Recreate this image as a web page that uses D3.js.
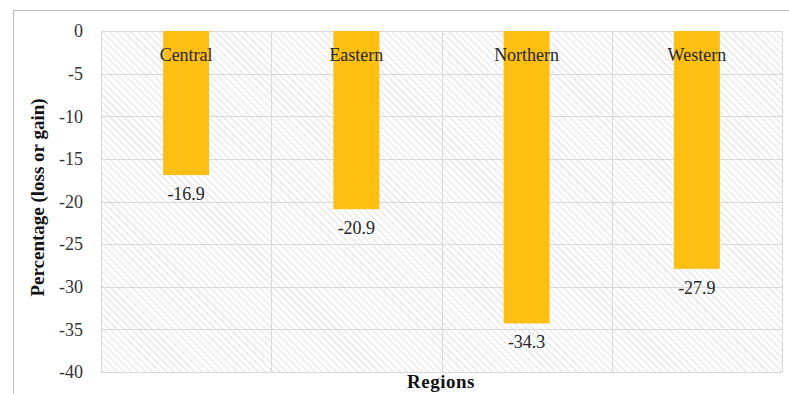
<!DOCTYPE html>
<html>
<head>
<meta charset="utf-8">
<script src="https://cdn.jsdelivr.net/npm/d3@7"></script>
<style>
  body { margin: 0; background: #fff; }
  svg { display: block; font-family: "Liberation Serif", "DejaVu Serif", serif; }
</style>
</head>
<body>
<div id="chart"></div>
<script>
var regions = ["Central", "Eastern", "Northern", "Western"];
var change = [-16.9, -20.9, -34.3, -27.9];
var yTicks = [0, -5, -10, -15, -20, -25, -30, -35, -40];

var width = 789;
var height = 394;
var margin = { left: 101, right: 7, top: 31, bottom: 22 };
var innerW = width - margin.left - margin.right;
var innerH = height - margin.top - margin.bottom;

var svg = d3.select("#chart").append("svg")
    .attr("width", width)
    .attr("height", height);

// hatch fill for plot background (lines running top-left to bottom-right)
var defs = svg.append("defs");
var pat = defs.append("pattern")
    .attr("id", "hatch")
    .attr("patternUnits", "userSpaceOnUse")
    .attr("width", 5)
    .attr("height", 5)
    .attr("patternTransform", "rotate(-45)");
pat.append("line")
    .attr("x1", 0).attr("y1", 0).attr("x2", 0).attr("y2", 5)
    .attr("stroke", "#dcdcdc")
    .attr("stroke-width", 1.6);

// outer frame
svg.append("rect")
    .attr("x", 13.5).attr("y", 10.5)
    .attr("width", width + 10).attr("height", height + 10)
    .attr("fill", "none")
    .attr("stroke", "#bdbdbd");

var xScale = d3.scaleBand()
    .domain(regions)
    .range([0, innerW])
    .paddingInner(0.73)
    .paddingOuter(0.365);

var yScale = d3.scaleLinear()
    .domain([-40, 0])
    .range([innerH, 0]);

var g = svg.append("g")
    .attr("transform", "translate(" + margin.left + "," + margin.top + ")");

g.append("rect")
    .attr("width", innerW)
    .attr("height", innerH)
    .attr("fill", "url(#hatch)");

// horizontal grid
g.append("g")
    .selectAll("line")
    .data(yTicks)
    .enter().append("line")
    .attr("x1", 0).attr("x2", innerW)
    .attr("y1", function (d) { return Math.round(yScale(d)) + 0.5; })
    .attr("y2", function (d) { return Math.round(yScale(d)) + 0.5; })
    .attr("stroke", "#d9d9d9");

// vertical grid between categories
var step = xScale.step();
g.append("g")
    .selectAll("line")
    .data(d3.range(regions.length + 1))
    .enter().append("line")
    .attr("x1", function (i) { return Math.round(i * step) + 0.5; })
    .attr("x2", function (i) { return Math.round(i * step) + 0.5; })
    .attr("y1", 0).attr("y2", innerH)
    .attr("stroke", "#d9d9d9");

// bars
g.selectAll(".bar")
    .data(change)
    .enter().append("rect")
    .attr("class", "bar")
    .attr("x", function (d, i) { return xScale(regions[i]); })
    .attr("y", yScale(0))
    .attr("width", xScale.bandwidth())
    .attr("height", function (d) { return yScale(d) - yScale(0); })
    .attr("fill", "#fdbf12");

// category names inside the top of the plot
g.selectAll(".cat")
    .data(regions)
    .enter().append("text")
    .attr("x", function (d) { return xScale(d) + xScale.bandwidth() / 2; })
    .attr("y", 30)
    .attr("text-anchor", "middle")
    .style("font-size", "18px")
    .attr("fill", "#262626")
    .text(function (d) { return d; });

// value labels
g.selectAll(".val")
    .data(change)
    .enter().append("text")
    .attr("x", function (d, i) { return xScale(regions[i]) + xScale.bandwidth() / 2; })
    .attr("y", function (d) { return yScale(d) + 25; })
    .attr("text-anchor", "middle")
    .style("font-size", "18px")
    .attr("fill", "#262626")
    .text(function (d) { return d.toFixed(1); });

// y axis labels (plain hyphen minus like the source)
var yAxis = d3.axisLeft(yScale)
    .tickValues(yTicks)
    .tickSize(0)
    .tickPadding(18)
    .tickFormat(function (d) { return String(d); });
g.append("g")
    .call(yAxis)
    .call(function (a) { a.select(".domain").remove(); })
    .selectAll("text")
    .style("font-family", "Liberation Serif, serif")
    .style("font-size", "18px")
    .attr("fill", "#333");

// axis titles
svg.append("text")
    .attr("transform", "translate(44," + (margin.top + innerH / 2 - 4) + ") rotate(-90)")
    .attr("text-anchor", "middle")
    .style("font-size", "19px")
    .style("font-weight", "bold")
    .attr("fill", "#111")
    .text("Percentage (loss or gain)");

svg.append("text")
    .attr("x", 441)
    .attr("y", 388)
    .attr("text-anchor", "middle")
    .style("font-size", "19px")
    .style("font-weight", "bold")
    .style("letter-spacing", "0.5px")
    .attr("fill", "#111")
    .text("Regions");
</script>
</body>
</html>
